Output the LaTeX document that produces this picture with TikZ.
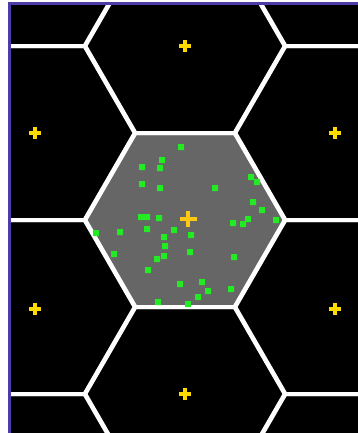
\documentclass[tikz,border=0pt]{standalone}
\usepackage{amsmath}

\definecolor{cellgray}{RGB}{102,102,102}
\definecolor{dotgreen}{RGB}{35,235,35}
\definecolor{seedyellow}{RGB}{255,218,0}
\definecolor{seedorange}{RGB}{255,200,20}
\definecolor{frameblue}{RGB}{78,58,168}

\tikzset{
  cellline/.style={draw=white,line width=1.2mm,line join=miter},
  seedcross/.style={draw=seedyellow,line width=0.95mm},
  framebox/.style={draw=frameblue,line width=0.75mm},
}

% flat-topped hexagon around the current origin
\newcommand{\hexcell}{(100.5,0) -- (50.25,87) -- (-50.25,87) -- (-100.5,0) -- (-50.25,-87) -- (50.25,-87) -- cycle}

\begin{document}
\begin{tikzpicture}[x=0.3mm,y=-0.3mm]
        \useasboundingbox (0,0) rectangle (358,433);
        \fill[black] (9.5,3.5) rectangle (358,433);
        \begin{scope}
            \clip (9.5,3.5) rectangle (358,433);
            \fill[cellgray,shift={(185,220)}] \hexcell;
            \foreach \cx/\cy in {35/-41,35/133,35/307,35/481,
                                 185/-128,185/46,185/220,185/394,185/568,
                                 335/-41,335/133,335/307,335/481}
                \draw[cellline,shift={(\cx,\cy)}] \hexcell;
        \end{scope}
        \draw[framebox] (9.5,433) -- (9.5,3.5) -- (358,3.5);
        % sample points in the central cell
        \foreach \px/\py in {181/147,162/160,142/167,160/168,142/184,160/188,
                             215/188,251/177,257/182,253/202,262/210,276/220,
                             248/219,243/224,233/223,141/217,147/217,159/218,
                             147/229,120/232,96/233,174/230,191/235,164/237,
                             165/246,190/252,164/256,157/259,114/254,148/270,
                             234/257,202/282,180/284,208/291,231/289,198/297,
                             158/302,188/304}
            \fill[dotgreen,rounded corners=0.3pt] (\px-3,\py-3) rectangle (\px+3,\py+3);
        % cell centres
        \foreach \sx/\sy in {185/46,35/133,335/133,35/309,335/309,185/394}
            \draw[seedcross] (\sx-6,\sy) -- (\sx+6,\sy) (\sx,\sy-6) -- (\sx,\sy+6);
        \draw[seedcross,draw=seedorange,line width=1.1mm] (180,219) -- (197,219) (188,211) -- (188,227);
    \end{tikzpicture}
\end{document}
